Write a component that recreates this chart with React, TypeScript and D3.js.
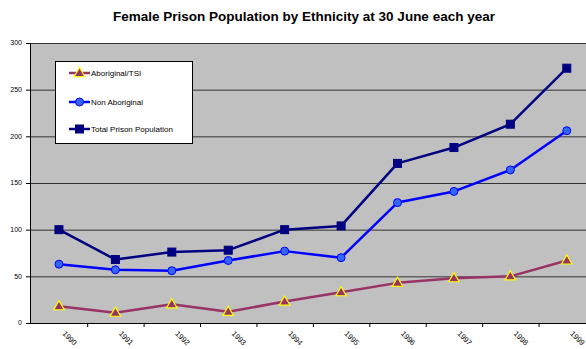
import React from "react";
import * as d3 from "d3";

const years = ["1990", "1991", "1992", "1993", "1994", "1995", "1996", "1997", "1998", "1999"];
const aboriginal = [18, 11, 20, 12, 23, 33, 43, 48, 50, 67];
const nonAboriginal = [63, 57, 56, 67, 77, 70, 129, 141, 164, 206];
const total = [100, 68, 76, 78, 100, 104, 171, 188, 213, 273];
const yTicks = [0, 50, 100, 150, 200, 250, 300];

const W = 586;
const H = 349;
const plot = { left: 30, top: 43, right: 595, bottom: 323 };
const font = "'Liberation Sans', Arial, sans-serif";

const series = [
  { name: "Aboriginal/TSI", values: aboriginal, line: "#993366", marker: "triangle", fill: "#993366", stroke: "#ffff00" },
  { name: "Non Aboriginal", values: nonAboriginal, line: "#0000ff", marker: "circle", fill: "#3366ff", stroke: "#0000ff" },
  { name: "Total Prison Population", values: total, line: "#000080", marker: "square", fill: "#000080", stroke: "#000080" },
];

function Marker({ kind, x, y, fill, stroke }: { kind: string; x: number; y: number; fill: string; stroke: string }) {
  if (kind === "circle") return <circle cx={x} cy={y} r={4} fill={fill} stroke={stroke} strokeWidth={1} />;
  if (kind === "square") return <rect x={x - 4} y={y - 4} width={8} height={8} fill={fill} stroke={stroke} strokeWidth={1} />;
  const s = d3.symbol(d3.symbolTriangle, 48)() as string;
  return <path d={s} transform={`translate(${x},${y + 0.5})`} fill={fill} stroke={stroke} strokeWidth={1.2} />;
}

export default function App() {
  const x = d3.scaleBand<string>().domain(years).range([plot.left + 0.75, plot.right]);
  const bw = x.bandwidth();
  const cx = (yr: string) => (x(yr) as number) + bw / 2;
  const y = d3.scaleLinear().domain([0, 300]).range([plot.bottom, plot.top]);
  const line = d3
    .line<number>()
    .x((_, i) => cx(years[i]))
    .y((v) => y(v));

  return (
    <svg width={W} height={H} style={{ position: "absolute", left: 0, top: 0, background: "#fff" }} fontFamily={font}>
      <text x={304} y={21} textAnchor="middle" fontSize={13.5} fontWeight="bold" fill="#000">
        Female Prison Population by Ethnicity at 30 June each year
      </text>
      <rect x={plot.left} y={plot.top} width={plot.right - plot.left} height={plot.bottom - plot.top} fill="#c0c0c0" />
      {yTicks.map((t) => (
        <g key={t}>
          {t > 0 && <line x1={plot.left} x2={plot.right} y1={y(t) + 0.5} y2={y(t) + 0.5} stroke="#333" strokeWidth={1} />}
          <line x1={plot.left - 4} x2={plot.left} y1={y(t) + 0.5} y2={y(t) + 0.5} stroke="#000" />
          <text x={22} y={y(t)} dy="0.35em" textAnchor="end" fontSize={7} fill="#000">
            {t}
          </text>
        </g>
      ))}
      <line x1={plot.left + 0.5} x2={plot.left + 0.5} y1={plot.top} y2={plot.bottom} stroke="#000" />
      <line x1={plot.left} x2={plot.right} y1={plot.bottom + 0.5} y2={plot.bottom + 0.5} stroke="#000" />
      {years.map((yr) => (
        <g key={yr}>
          <line x1={(x(yr) as number) + bw + 0.5} x2={(x(yr) as number) + bw + 0.5} y1={plot.bottom} y2={plot.bottom + 4} stroke="#000" />
          <text transform={`translate(${cx(yr) + 3},${plot.bottom + 11}) rotate(45)`} fontSize={7.5} fill="#000">
            {yr}
          </text>
        </g>
      ))}
      {series.map((s) => (
        <g key={s.name}>
          <path d={line(s.values) as string} fill="none" stroke={s.line} strokeWidth={2.5} strokeLinejoin="round" />
          {s.values.map((v, i) => (
            <Marker key={i} kind={s.marker} x={cx(years[i])} y={y(v)} fill={s.fill} stroke={s.stroke} />
          ))}
        </g>
      ))}
      <rect x={55.5} y={61.5} width={137} height={82} fill="#fff" stroke="#000" strokeWidth={1} />
      {series.map((s, i) => {
        const ly = [73, 102, 129][i];
        return (
          <g key={s.name}>
            <line x1={69} x2={90} y1={ly} y2={ly} stroke={s.line} strokeWidth={2.5} />
            <Marker kind={s.marker} x={79.5} y={ly} fill={s.fill} stroke={s.stroke} />
            <text x={91} y={ly} dy="0.35em" fontSize={8} fill="#000">
              {s.name}
            </text>
          </g>
        );
      })}
    </svg>
  );
}
